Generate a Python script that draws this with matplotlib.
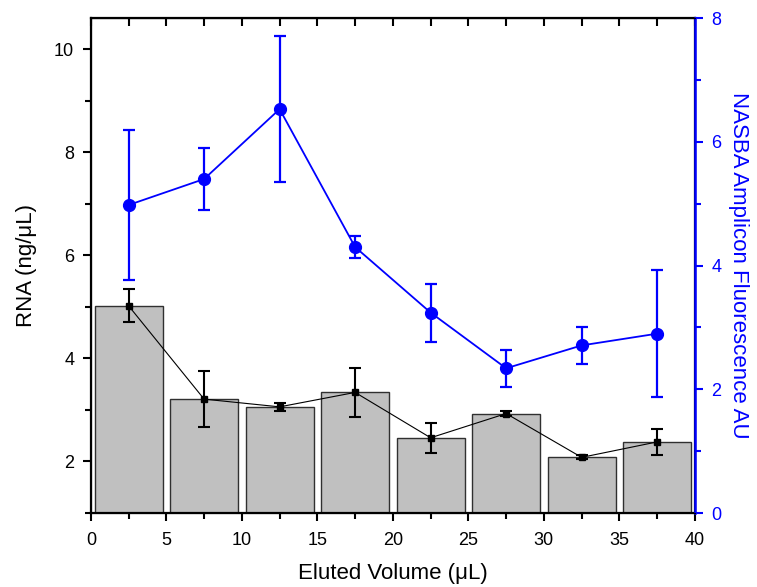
import numpy as np
import matplotlib.pyplot as plt
from matplotlib.ticker import MultipleLocator

plt.rcParams['font.family'] = ['Liberation Sans', 'DejaVu Sans']

# datos
volumen = [2.5, 7.5, 12.5, 17.5, 22.5, 27.5, 32.5, 37.5]
rna = [5.02, 3.21, 3.06, 3.34, 2.46, 2.93, 2.08, 2.38]
rna_err = [0.32, 0.55, 0.08, 0.47, 0.29, 0.04, 0.04, 0.25]
nasba = [4.98, 5.40, 6.53, 4.30, 3.24, 2.34, 2.71, 2.90]
nasba_err = [1.22, 0.50, 1.18, 0.18, 0.47, 0.30, 0.30, 1.03]

fig = plt.figure(figsize=(7.57, 5.87), dpi=100)
ax = fig.add_axes([0.120, 0.126, 0.798, 0.843])

ax.bar(volumen, [v - 1 for v in rna], bottom=1, width=4.5, color='#c0c0c0',
       edgecolor='#303030', linewidth=1.0, zorder=1)
ax.errorbar(volumen, rna, yerr=rna_err, color='black', lw=0.8, marker='s',
            ms=4.5, capsize=4, elinewidth=1.5, capthick=1.5, zorder=3)

ax.set_xlim(0, 40)
ax.set_ylim(1, 10.6)
ax.xaxis.set_major_locator(MultipleLocator(5))
ax.xaxis.set_minor_locator(MultipleLocator(2.5))
ax.yaxis.set_major_locator(MultipleLocator(2))
ax.yaxis.set_minor_locator(MultipleLocator(1))
ax.tick_params(axis='x', which='both', direction='out', labelsize=13, pad=8)
ax.tick_params(axis='y', which='both', direction='out', labelsize=13, pad=6)
ax.tick_params(which='major', length=6, width=1.5)
ax.tick_params(which='minor', length=4, width=1.5)
for sp in ax.spines.values():
    sp.set_linewidth(1.6)

ax.set_xlabel('Eluted Volume (\u03bcL)', fontsize=16, labelpad=10)
ax.set_ylabel('RNA (ng/\u03bcL)', fontsize=16, labelpad=12)

# eje superior con ticks hacia dentro
top = ax.secondary_xaxis('top')
top.xaxis.set_major_locator(MultipleLocator(2.5))
top.tick_params(direction='in', length=6, width=1.5, labeltop=False)
ax.tick_params(axis='x', which='both', top=False)

ax2 = ax.twinx()
ax2.errorbar(volumen, nasba, yerr=nasba_err, color='#0000ff', lw=1.3, marker='o',
             ms=8.5, capsize=4, elinewidth=1.6, capthick=1.6, zorder=3)
ax2.set_ylim(0, 8)
ax2.yaxis.set_major_locator(MultipleLocator(2))
ax2.yaxis.set_minor_locator(MultipleLocator(1))
ax2.tick_params(axis='y', which='both', colors='#0000ff', labelsize=13, width=1.5, pad=6)
ax2.tick_params(which='major', length=6)
ax2.tick_params(which='minor', length=4)
ax2.spines['right'].set_color('#0000ff')
ax2.spines['right'].set_linewidth(1.8)
ax2.set_ylabel('NASBA Amplicon Fluorescence AU', color='#0000ff', fontsize=16,
               rotation=270, labelpad=20)

fig.savefig('out.png', dpi=100)
